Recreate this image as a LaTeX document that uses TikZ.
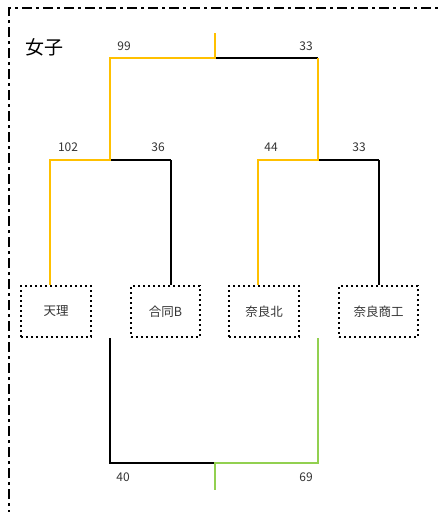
\documentclass[tikz,border=0pt]{standalone}
\usepackage{fontspec}
\newfontfamily\jp{Noto Sans CJK JP}
\definecolor{win}{HTML}{FFC000}
\definecolor{win2}{HTML}{92D050}
\definecolor{txt}{HTML}{333333}
\begin{document}
\begin{tikzpicture}[x=1pt,y=-1pt,
  team/.style={draw=black,line width=2.4pt,dash pattern=on 2.4pt off 2.6pt,minimum width=70pt,minimum height=51pt,inner sep=0pt,font=\jp\fontsize{12.5}{14}\selectfont,text=txt},
  score/.style={font=\jp\fontsize{12}{14}\selectfont,text=txt},
  bk/.style={draw=black,line width=2pt},
  yl/.style={draw=win,line width=2.6pt},
  gr/.style={draw=win2,line width=2.6pt}]
\useasboundingbox (0,0) rectangle (438,512);
% frame
\begin{scope}
\clip (0,0) rectangle (438,512);
\draw[line width=2pt,dash pattern=on 10pt off 4pt on 3pt off 4pt] (9,520) -- (9,8) -- (445,8);
\end{scope}
\node[font=\jp\fontsize{19}{22}\selectfont,text=black] (title) at (44,47) {女子};
% teams
\node[team] (t1) at (56,311.5) {天理};
\node[team,minimum width=69pt] (t2) at (165.5,311.5) {合同B};
\node[team] (t3) at (264,311.5) {奈良北};
\node[team,minimum width=79pt] (t4) at (378.5,311.5) {奈良商工};
% coordinates
\coordinate (a1) at (50,160);
\coordinate (a2) at (110,160);
\coordinate (a3) at (171,160);
\coordinate (b1) at (258,160);
\coordinate (b2) at (318,160);
\coordinate (b3) at (379,160);
\coordinate (c1) at (110,58);
\coordinate (c2) at (215,58);
\coordinate (c3) at (318,58);
\coordinate (top) at (215,33);
\coordinate (d1) at (110,463);
\coordinate (d2) at (215,463);
\coordinate (d3) at (318,463);
\coordinate (bot) at (215,490);
% upper bracket
\draw[bk] (a3) -- (t2.north -| a3);
\draw[bk] (a2) -- (a3);
\draw[bk] (b3) -- (t4.north -| b3);
\draw[bk] (b2) -- (b3);
\draw[bk] (c2) -- (c3);
\draw[yl,line join=miter] (t1.north -| a1) -- (a1) -- (a2) -- (c1) -- (c2) -- (top);
\draw[yl,line join=miter] (t3.north -| b1) -- (b1) -- (b2) -- (c3);
% lower bracket
\draw[bk,line join=miter] (t1.south -| d1) -- (d1) -- (d2);
\draw[gr,line join=miter] (t3.south -| d3) -- (d3) -- (d2) -- (bot);
% scores
\node[score] (s99) at (124,46) {99};
\node[score] (s33a) at (306,46) {33};
\node[score] (s102) at (68,147) {102};
\node[score] (s36) at (158,147) {36};
\node[score] (s44) at (271,147) {44};
\node[score] (s33b) at (359,147) {33};
\node[score] (s40) at (123,477) {40};
\node[score] (s69) at (306,477) {69};
\end{tikzpicture}
\end{document}
